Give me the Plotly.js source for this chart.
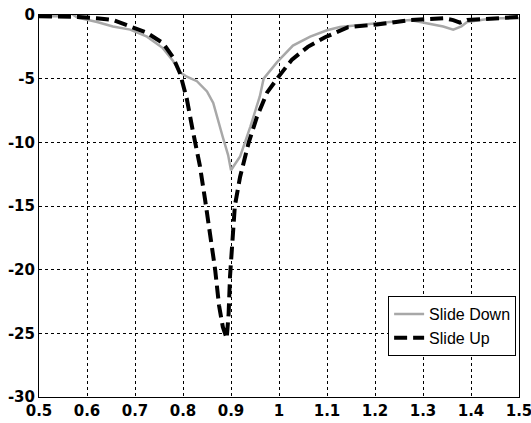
<!DOCTYPE html>
<html>
<head>
<meta charset="utf-8">
<script src="https://cdn.plot.ly/plotly-3.0.1.min.js"></script>
<style>html,body{margin:0;padding:0;background:#fff;}#chart{width:531px;height:423px;}</style>
</head>
<body>
<div id="chart"></div>
<script>
const downX = [0.50,0.56,0.566,0.58,0.621,0.654,0.69,0.725,0.758,0.779,0.794,0.808,0.829,0.85,0.863,0.871,0.883,0.894,0.90,0.905,0.919,0.94,0.96,0.968,0.996,1.029,1.065,1.10,1.127,1.204,1.273,1.342,1.363,1.38,1.392,1.446,1.50];
const downY = [-0.1,-0.1,0.15,-0.2,-0.55,-0.9,-1.15,-1.7,-2.6,-3.6,-4.5,-4.85,-5.2,-6.0,-6.9,-7.9,-9.6,-11.0,-12.2,-11.9,-11.1,-8.8,-6.4,-5.0,-3.7,-2.4,-1.7,-1.2,-0.95,-0.65,-0.4,-0.9,-1.15,-0.9,-0.55,-0.25,-0.25];
const upX = [0.50,0.565,0.58,0.62,0.654,0.69,0.725,0.758,0.779,0.794,0.808,0.821,0.835,0.846,0.857,0.867,0.875,0.883,0.891,0.895,0.898,0.903,0.908,0.919,0.937,0.954,0.975,1.0,1.027,1.06,1.096,1.144,1.204,1.273,1.342,1.363,1.377,1.392,1.446,1.50];
const upY = [-0.1,-0.1,-0.15,-0.25,-0.39,-0.9,-1.4,-2.2,-3.3,-4.6,-6.6,-9.2,-11.8,-14.5,-17.5,-20,-22.8,-24.5,-25.4,-23.5,-20.5,-17.5,-15,-12.7,-10,-8.0,-6.1,-4.8,-3.5,-2.5,-1.75,-0.95,-0.75,-0.4,-0.25,-0.4,-0.6,-0.4,-0.25,-0.15];
const xTicks = [0.5,0.6,0.7,0.8,0.9,1.0,1.1,1.2,1.3,1.4,1.5];
const xTickText = ["0.5","0.6","0.7","0.8","0.9","1","1.1","1.2","1.3","1.4","1.5"];
const yTicks = [0,-5,-10,-15,-20,-25,-30];
const yTickText = ["0","-5","-10","-15","-20","-25","-30"];
const seriesNames = ["Slide Down","Slide Up"];

const traces = [
  {x: downX, y: downY, name: seriesNames[0], mode: 'lines', type: 'scatter',
   line: {color: '#a8a8a8', width: 2.5}},
  {x: upX, y: upY, name: seriesNames[1], mode: 'lines', type: 'scatter',
   line: {color: '#000', width: 4, dash: '13px,6px'}}
];
const axisFont = {family: 'DejaVu Sans', size: 15, color: '#000', weight: 'bold'};
const layout = {
  width: 531, height: 423,
  margin: {l: 39, r: 12, t: 15, b: 26, pad: 0},
  paper_bgcolor: '#fff', plot_bgcolor: '#fff',
  showlegend: true,
  xaxis: {range: [0.5, 1.5], tickvals: xTicks, ticktext: xTickText, tickfont: axisFont,
    ticklabeloverflow: 'allow',
    showgrid: true, gridcolor: '#000', gridwidth: 1, griddash: 'dot',
    showline: true, linecolor: '#000', linewidth: 1, mirror: true, zeroline: false,
    ticks: '', ticklen: 0},
  yaxis: {range: [-30, 0], tickvals: yTicks, ticktext: yTickText, tickfont: axisFont,
    ticklabeloverflow: 'allow',
    showgrid: true, gridcolor: '#000', gridwidth: 1, griddash: 'dot',
    showline: true, linecolor: '#000', linewidth: 1, mirror: true, zeroline: false,
    ticks: '', ticklen: 0},
  legend: {x: 0.994, y: 0.107, xanchor: 'right', yanchor: 'bottom',
    bgcolor: '#fff', bordercolor: '#000', borderwidth: 1,
    font: {family: 'Liberation Sans', size: 16, color: '#000'},
    tracegroupgap: 0, itemwidth: 30}
};
Plotly.newPlot('chart', traces, layout, {displayModeBar: false, staticPlot: true});
</script>
</body>
</html>
